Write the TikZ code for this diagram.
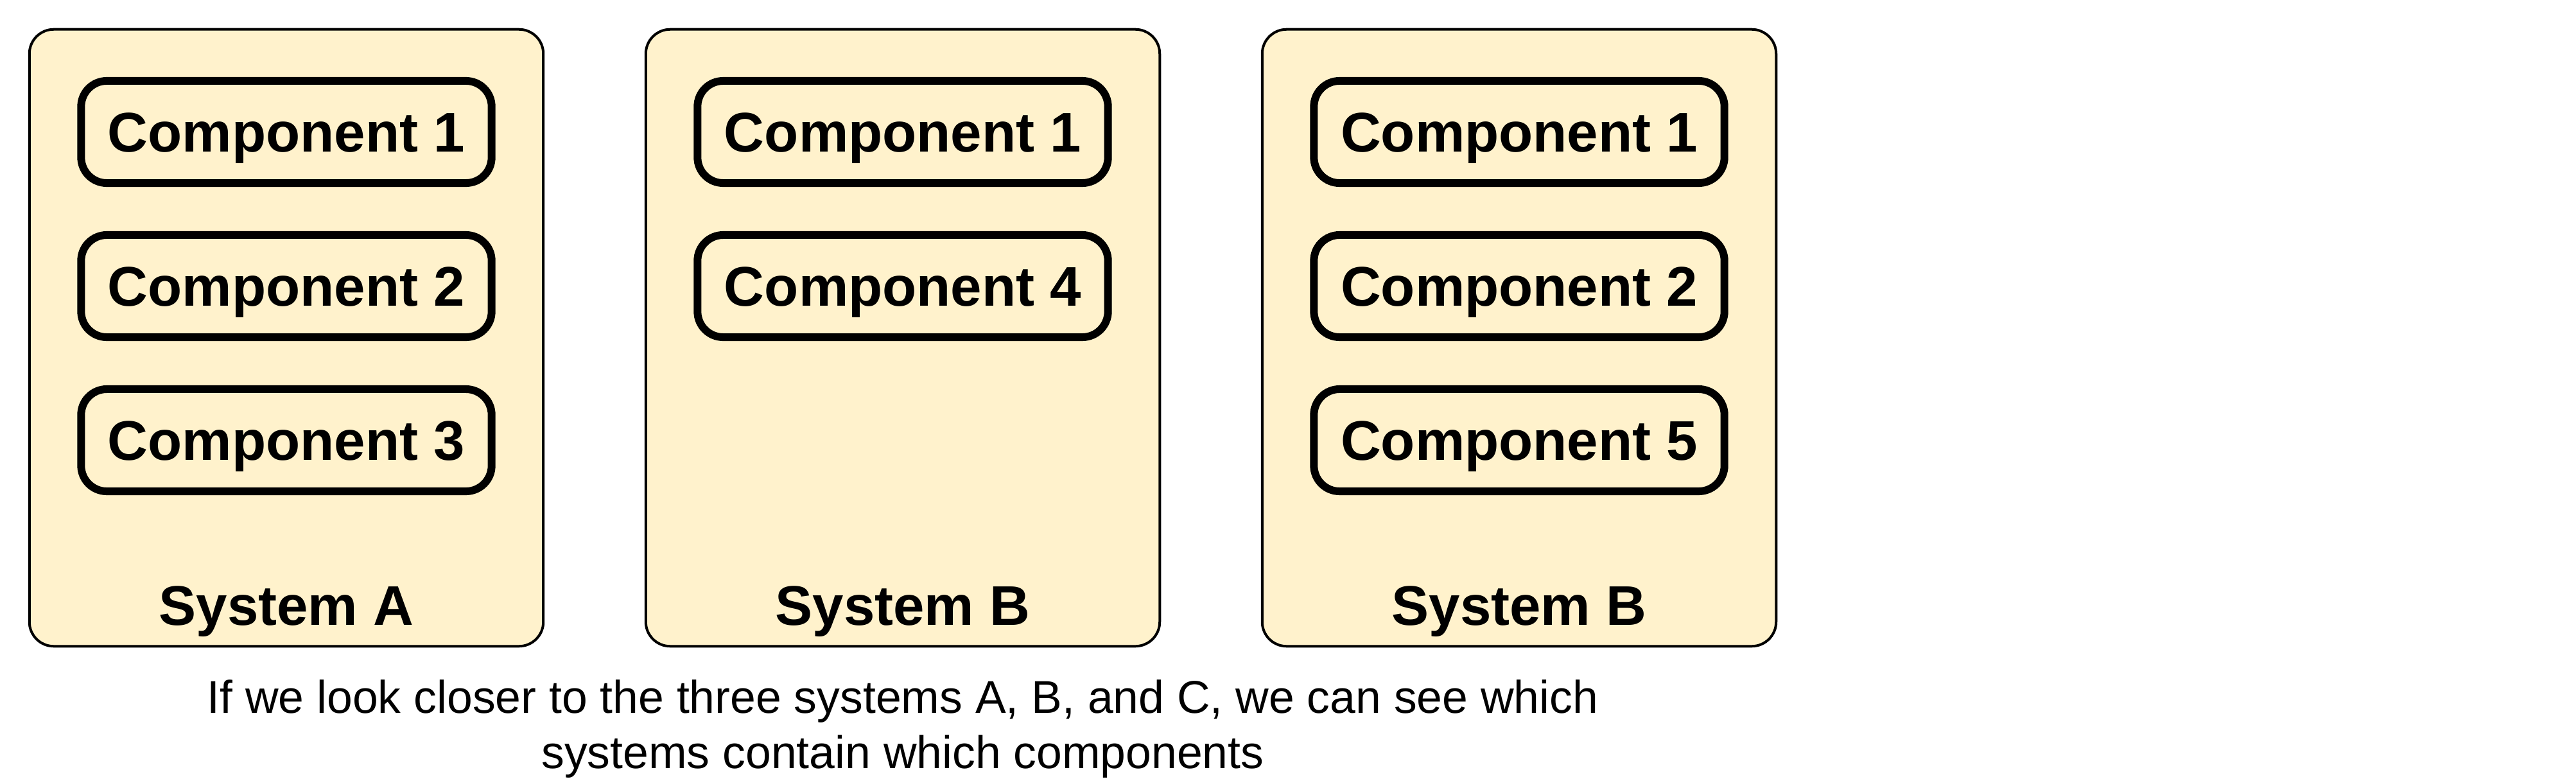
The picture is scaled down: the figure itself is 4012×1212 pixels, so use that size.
\documentclass[tikz,border=0pt]{standalone}
\usepackage{fontspec}
\setmainfont{Liberation Sans}
\definecolor{sysfill}{HTML}{FFF2CC}
\tikzset{
  sysbox/.style={draw, fill=sysfill, line width=0.04cm, rounded corners=0.38cm,
    minimum width=8cm, minimum height=9.6cm, inner sep=0pt},
  compbox/.style={draw, line width=0.12cm, rounded corners=0.4cm,
    minimum width=6.39cm, minimum height=1.59cm, inner sep=0pt,
    text height=0.62cm, text depth=0pt,
    font=\fontsize{24.75pt}{29pt}\selectfont\bfseries},
  syslabel/.style={anchor=base, inner sep=0pt,
    font=\fontsize{24.75pt}{29pt}\selectfont\bfseries},
  captext/.style={align=center, inner sep=0pt,
    font=\fontsize{20.34pt}{24.19pt}\selectfont}
}
\begin{document}
\begin{tikzpicture}[x=0.01cm, y=-0.01cm]
  \useasboundingbox (0,0) rectangle (4012,1212);

  % the three systems and what they contain
  \foreach \sys/\cx/\lbl/\comps in {A/446/System A/{1,2,3}, B/1406/System B/{1,4}, C/2366/System B/{1,2,5}} {
    \node[sysbox] (sys\sys) at (\cx,526) {};
    \node[syslabel] (lbl\sys) at (\cx,973) {\lbl};
    \foreach \c [count=\i] in \comps
      \node[compbox] (comp\sys\c) at (\cx,{205.5+240*(\i-1)}) {Component \c};
  }

  % base of a two-line node is its last line
  \node[captext, anchor=base] (note) at (1406,1196)
    {If we look closer to the three systems A, B, and C, we can see which\\systems contain which components};
\end{tikzpicture}
\end{document}
